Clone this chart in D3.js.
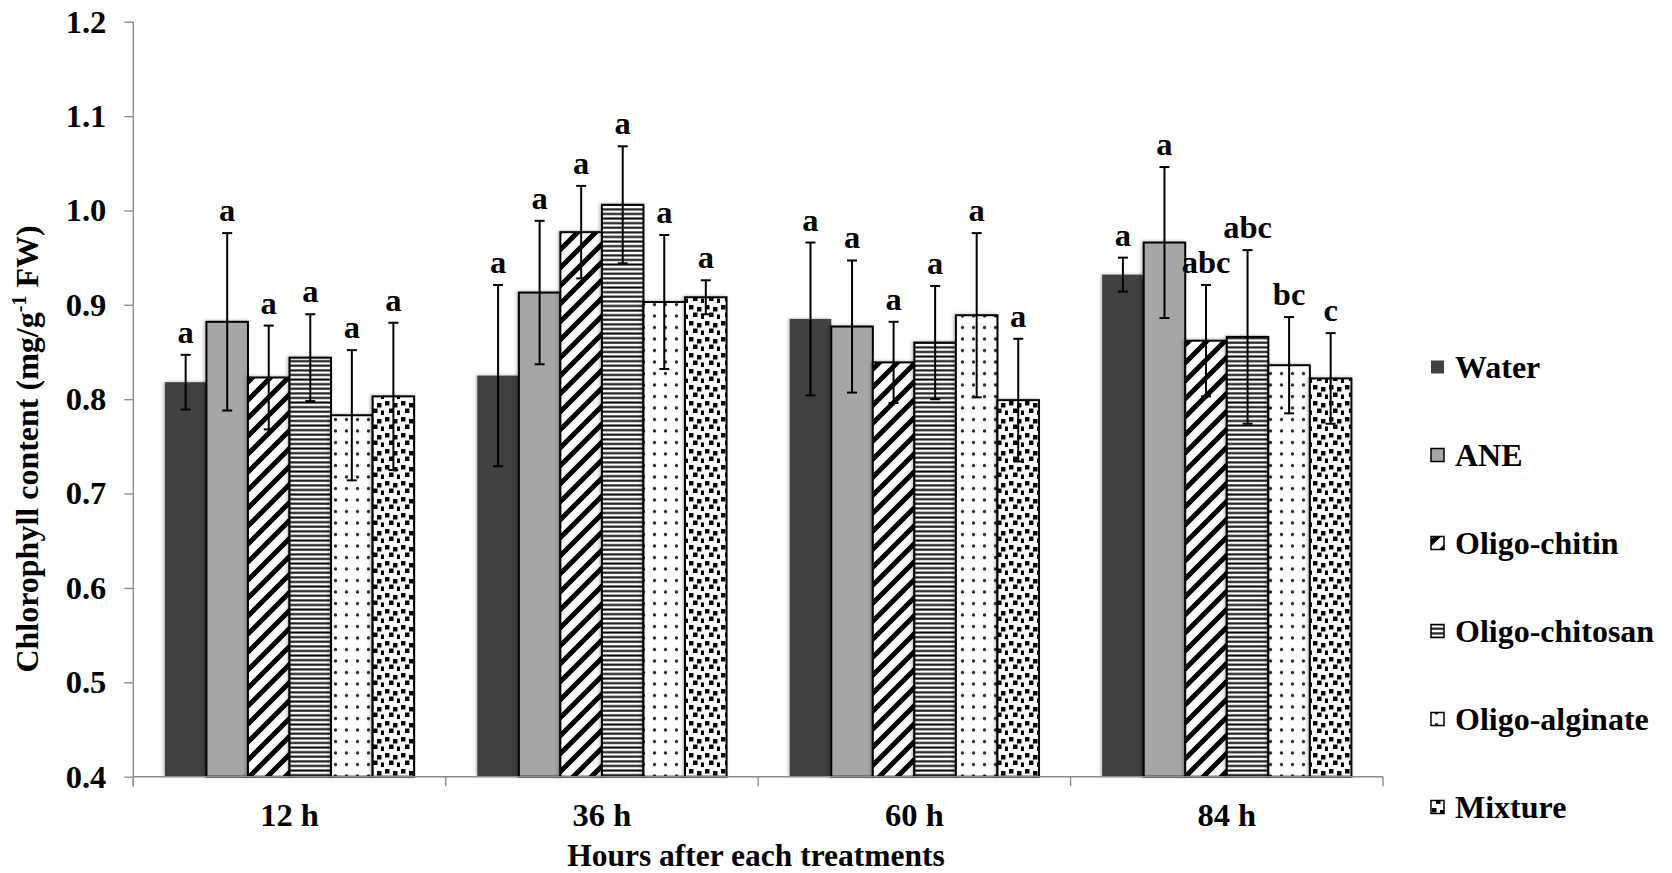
<!DOCTYPE html>
<html>
<head>
<meta charset="utf-8">
<script src="https://cdn.jsdelivr.net/npm/d3@7"></script>
<style>
  html, body { margin: 0; padding: 0; background: #fff; }
  svg { display: block; }
  text { font-family: "Liberation Serif", "Times New Roman", serif; font-weight: bold; fill: #000; }
</style>
</head>
<body>
<svg id="chart" width="1672" height="873"></svg>
<script>
// Chlorophyll content per treatment and sampling time
const categories = ["12 h", "36 h", "60 h", "84 h"];
const series = ["Water", "ANE", "Oligo-chitin", "Oligo-chitosan", "Oligo-alginate", "Mixture"];

const water    = [0.818, 0.825, 0.885, 0.932];
const ane      = [0.882, 0.913, 0.877, 0.966];
const chitin   = [0.823, 0.977, 0.839, 0.862];
const chitosan = [0.844, 1.006, 0.860, 0.866];
const alginate = [0.783, 0.903, 0.889, 0.836];
const mixture  = [0.803, 0.908, 0.799, 0.822];

// standard errors (half-length of error bars)
const waterErr    = [0.029, 0.096, 0.081, 0.018];
const aneErr      = [0.094, 0.076, 0.070, 0.080];
const chitinErr   = [0.055, 0.049, 0.043, 0.059];
const chitosanErr = [0.046, 0.062, 0.060, 0.092];
const alginateErr = [0.069, 0.071, 0.087, 0.051];
const mixtureErr  = [0.078, 0.018, 0.065, 0.048];

// significance letters
const waterSig    = ["a", "a", "a", "a"];
const aneSig      = ["a", "a", "a", "a"];
const chitinSig   = ["a", "a", "a", "abc"];
const chitosanSig = ["a", "a", "a", "abc"];
const alginateSig = ["a", "a", "a", "bc"];
const mixtureSig  = ["a", "a", "a", "c"];

const yTicks = [0.4, 0.5, 0.6, 0.7, 0.8, 0.9, 1.0, 1.1, 1.2];

const values = [water, ane, chitin, chitosan, alginate, mixture];
const errors = [waterErr, aneErr, chitinErr, chitosanErr, alginateErr, mixtureErr];
const sigs   = [waterSig, aneSig, chitinSig, chitosanSig, alginateSig, mixtureSig];

const rows = [];
categories.forEach((c, ci) => {
  series.forEach((s, si) => {
    rows.push({cat: c, ser: s, si, v: values[si][ci], e: errors[si][ci], sig: sigs[si][ci]});
  });
});

const svg = d3.select("#chart");
const plotLeft = 133.3, plotRight = 1383, plotTop = 21.7, plotBottom = 776.7;
const fontSize = 32.5;

const y = d3.scaleLinear().domain([0.4, 1.2]).range([plotBottom, plotTop]);
const x0 = d3.scaleBand().domain(categories).range([plotLeft, plotRight]).paddingInner(0).paddingOuter(0);
const x1 = d3.scaleBand().domain(series).range([0, x0.bandwidth()]).paddingInner(0).paddingOuter(0.76);

// fill patterns
const defs = svg.append("defs");

const diag = defs.append("pattern").attr("id", "p-diag")
  .attr("patternUnits", "userSpaceOnUse").attr("width", 18).attr("height", 18);
diag.append("rect").attr("width", 18).attr("height", 18).attr("fill", "#fff");
diag.append("path").attr("d", "M-4,22 L22,-4 M-4,4 L4,-4 M14,22 L22,14")
  .attr("stroke", "#000").attr("stroke-width", 5);

const hlines = defs.append("pattern").attr("id", "p-hline")
  .attr("patternUnits", "userSpaceOnUse").attr("width", 8).attr("height", 4.6);
hlines.append("rect").attr("width", 8).attr("height", 4.6).attr("fill", "#fff");
hlines.append("rect").attr("y", 1.3).attr("width", 8).attr("height", 2.1).attr("fill", "#111");

const dots = defs.append("pattern").attr("id", "p-dots")
  .attr("patternUnits", "userSpaceOnUse").attr("width", 11).attr("height", 11.5);
dots.append("rect").attr("width", 11).attr("height", 11.5).attr("fill", "#fff");
dots.append("circle").attr("cx", 5.5).attr("cy", 5.5).attr("r", 1.7).attr("fill", "#222");

// staggered square dots for the mixture treatment
const conf = defs.append("pattern").attr("id", "p-conf")
  .attr("patternUnits", "userSpaceOnUse").attr("width", 16).attr("height", 16);
conf.append("rect").attr("width", 16).attr("height", 16).attr("fill", "#fff");
[[1, 1], [9, 3], [5, 8.5], [13, 10.5]].forEach(([px, py]) => {
  conf.append("rect").attr("x", px).attr("y", py).attr("width", 4.5).attr("height", 4.5).attr("fill", "#000");
});

const shadow = defs.append("filter").attr("id", "shadow")
  .attr("x", "-20%").attr("y", "-5%").attr("width", "140%").attr("height", "110%");
shadow.append("feDropShadow").attr("dx", -1.5).attr("dy", -0.5).attr("stdDeviation", 1.5)
  .attr("flood-color", "#000").attr("flood-opacity", 0.25);

const fills = {
  "Water": "#404040",
  "ANE": "#a6a6a6",
  "Oligo-chitin": "url(#p-diag)",
  "Oligo-chitosan": "url(#p-hline)",
  "Oligo-alginate": "url(#p-dots)",
  "Mixture": "url(#p-conf)"
};
const strokes = {
  "Water": "none", "ANE": "#000", "Oligo-chitin": "#000",
  "Oligo-chitosan": "#000", "Oligo-alginate": "#000", "Mixture": "#000"
};

// bars
svg.append("g").selectAll("rect").data(rows).join("rect")
  .attr("x", d => x0(d.cat) + x1(d.ser))
  .attr("y", d => y(d.v))
  .attr("width", x1.bandwidth())
  .attr("height", d => y(0.4) - y(d.v))
  .attr("fill", d => fills[d.ser])
  .attr("stroke", d => strokes[d.ser])
  .attr("stroke-width", 2)
  .attr("filter", "url(#shadow)");

// axes
const axisColor = "#8c8c8c";
const yAxis = svg.append("g").attr("transform", `translate(${plotLeft},0)`)
  .call(d3.axisLeft(y).tickValues(yTicks).tickFormat(d3.format(".1f")).tickSize(9).tickPadding(18));
yAxis.select(".domain").attr("stroke", axisColor).attr("stroke-width", 1.4).attr("d", `M0,${plotTop}V${plotBottom + 9.5}`);
yAxis.selectAll(".tick line").attr("stroke", axisColor).attr("stroke-width", 1.4);
yAxis.selectAll(".tick text").attr("font-size", fontSize).attr("font-family", "Liberation Serif").attr("font-weight", "bold").attr("fill", "#000");

const xAxis = svg.append("g").attr("transform", `translate(0,${plotBottom})`);
xAxis.append("line").attr("x1", plotLeft).attr("x2", plotRight).attr("y1", 0).attr("y2", 0)
  .attr("stroke", axisColor).attr("stroke-width", 1.4);
const bounds = categories.map(c => x0(c)).concat([plotRight]);
xAxis.selectAll("line.tk").data(bounds).join("line").attr("class", "tk")
  .attr("x1", d => d).attr("x2", d => d).attr("y1", 0).attr("y2", 9.5)
  .attr("stroke", axisColor).attr("stroke-width", 1.4);
xAxis.selectAll("text").data(categories).join("text")
  .attr("x", d => x0(d) + x0.bandwidth() / 2)
  .attr("y", 49)
  .attr("text-anchor", "middle")
  .attr("font-size", fontSize)
  .text(d => d);

// error bars
const eb = svg.append("g").attr("stroke", "#000").attr("stroke-width", 2);
const cx = d => x0(d.cat) + x1(d.ser) + x1.bandwidth() / 2;
eb.selectAll("line.v").data(rows).join("line").attr("class", "v")
  .attr("x1", cx).attr("x2", cx)
  .attr("y1", d => y(d.v + d.e)).attr("y2", d => y(d.v - d.e));
eb.selectAll("line.t").data(rows).join("line").attr("class", "t")
  .attr("x1", d => cx(d) - 5).attr("x2", d => cx(d) + 5)
  .attr("y1", d => y(d.v + d.e)).attr("y2", d => y(d.v + d.e));
eb.selectAll("line.b").data(rows).join("line").attr("class", "b")
  .attr("x1", d => cx(d) - 5).attr("x2", d => cx(d) + 5)
  .attr("y1", d => y(d.v - d.e)).attr("y2", d => y(d.v - d.e));

// significance letters
svg.append("g").selectAll("text").data(rows).join("text")
  .attr("x", cx)
  .attr("y", d => y(d.v + d.e) - 12)
  .attr("text-anchor", "middle")
  .attr("font-size", fontSize)
  .text(d => d.sig);

// axis titles
svg.append("text")
  .attr("x", 756).attr("y", 866)
  .attr("text-anchor", "middle").attr("font-size", 31.5)
  .text("Hours after each treatments");

const yt = svg.append("text")
  .attr("transform", "translate(38,449) rotate(-90)")
  .attr("text-anchor", "middle").attr("font-size", 32);
yt.append("tspan").text("Chlorophyll content (mg/g");
yt.append("tspan").attr("dy", -12).attr("font-size", 20).text("-1");
yt.append("tspan").attr("dy", 12).text(" FW)");

// legend
const legend = svg.append("g");
const lg = legend.selectAll("g").data(series).join("g")
  .attr("transform", (d, i) => `translate(1431,${367 + i * 88})`);
lg.append("rect")
  .attr("x", 0).attr("y", -6.5).attr("width", 13).attr("height", 13)
  .attr("fill", d => fills[d])
  .attr("stroke", d => strokes[d])
  .attr("stroke-width", 1.5);
lg.append("text")
  .attr("x", 24).attr("y", 11)
  .attr("font-size", 32)
  .text(d => d);
</script>
</body>
</html>
